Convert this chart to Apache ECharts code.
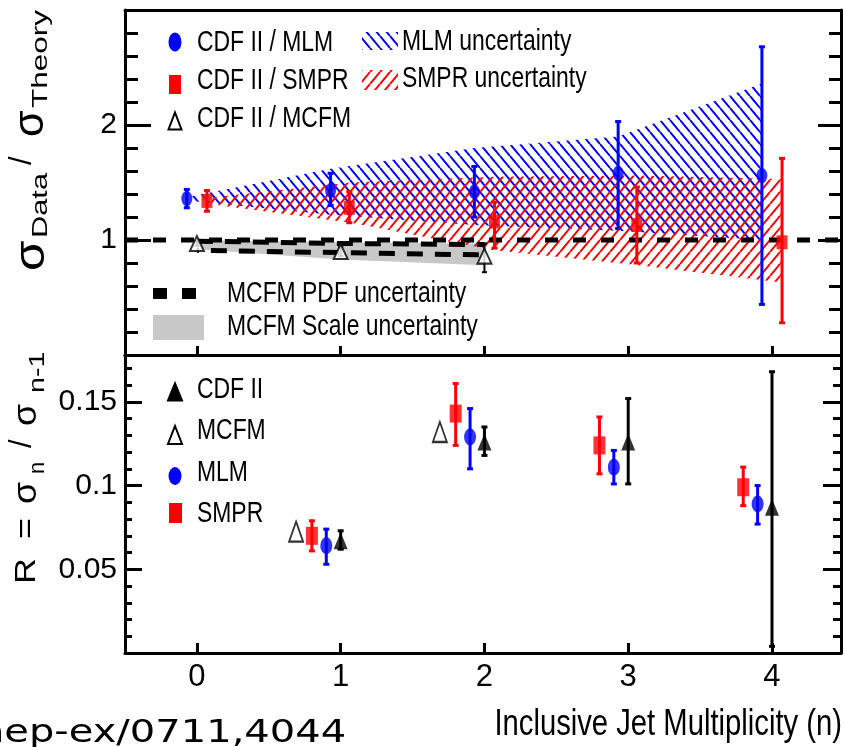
<!DOCTYPE html>
<html><head><meta charset="utf-8">
<script src="https://cdn.jsdelivr.net/npm/echarts@6/dist/echarts.min.js"></script>
<style>html,body{margin:0;padding:0;background:#fff}#c{width:844px;height:747px}</style>
</head><body><div id="c"></div>
<script>
// ---------------- data: top panel (sigma_data / sigma_theory) ----------------
const xTickValues = [0, 1, 2, 3, 4];
const topYLabels = [1, 2];
const botYLabels = [0.05, 0.1, 0.15];

const mlmX = [-0.07, 0.93, 1.93, 2.93, 3.93];
const mlmRatio = [1.36, 1.43, 1.42, 1.58, 1.56];
const mlmLo = [1.28, 1.30, 1.20, 1.10, 0.44];
const mlmHi = [1.44, 1.58, 1.64, 2.03, 2.68];

const smprX = [0.07, 1.06, 2.07, 3.06, 4.07];
const smprRatio = [1.34, 1.28, 1.16, 1.13, 0.98];
const smprLo = [1.25, 1.15, 0.93, 0.80, 0.28];
const smprHi = [1.43, 1.42, 1.33, 1.46, 1.71];

const mcfmX = [0, 1, 2];
const mcfmRatio = [0.97, 0.90, 0.86];
const mcfmLo = [0.95, 0.86, 0.72];
const mcfmHi = [0.99, 0.94, 0.97];

const mlmBandX = [-0.04, 0.93, 1.93, 2.93, 3.93];
const mlmBandUp = [1.38, 1.62, 1.80, 1.90, 2.36];
const mlmBandLo = [1.34, 1.22, 1.13, 1.08, 1.00];

const smprBandX = [0.1, 1.07, 2.07, 3.07, 4.07];
const smprBandUp = [1.37, 1.50, 1.55, 1.56, 1.53];
const smprBandLo = [1.31, 1.15, 0.91, 0.78, 0.63];

const scaleBandX = [0, 1, 2];
const scaleBandUp = [1.00, 0.98, 0.97];
const scaleBandLo = [0.92, 0.83, 0.78];

const pdfBandX = [0, 1, 2];
const pdfBandUp = [0.99, 0.97, 0.96];
const pdfBandLo = [0.91, 0.89, 0.87];

const refLineX = [-0.5, 4.48];
const refLineY = [1, 1];

// ---------------- data: bottom panel (R = sigma_n / sigma_n-1) ----------------
const rCdfX = [1, 2, 3, 4];
const rCdf = [0.067, 0.126, 0.126, 0.087];
const rCdfLo = [0.062, 0.118, 0.101, 0.004];
const rCdfHi = [0.073, 0.135, 0.152, 0.168];

const rMcfmX = [0.69, 1.69];
const rMcfm = [0.0725, 0.132];

const rMlmX = [0.9, 1.9, 2.9, 3.9];
const rMlm = [0.064, 0.129, 0.111, 0.089];
const rMlmLo = [0.053, 0.110, 0.101, 0.077];
const rMlmHi = [0.074, 0.146, 0.121, 0.100];

const rSmprX = [0.8, 1.8, 2.8, 3.8];
const rSmpr = [0.070, 0.143, 0.124, 0.099];
const rSmprLo = [0.061, 0.124, 0.107, 0.088];
const rSmprHi = [0.079, 0.161, 0.141, 0.111];

// ---------------- helpers ----------------
const BLUE = '#0000ff', RED = '#ff0000', BLACK = '#000000', GRAY = '#c8c8c8';
const NARROW = '"Liberation Sans Narrow","Liberation Sans",Arial,sans-serif';
const SANS = '"Liberation Sans",Arial,sans-serif';
const SQ = 0.79;   // horizontal squeeze of the original picture

function hatch(color, dir) {
  const w = 10, h = 12;
  const c = document.createElement('canvas');
  c.width = w; c.height = h;
  const g = c.getContext('2d');
  g.strokeStyle = color; g.lineWidth = 2; g.lineCap = 'butt';
  g.beginPath();
  for (let k = -1; k <= 1; k++) {
    if (dir > 0) { g.moveTo(k * w, h); g.lineTo(k * w + w, 0); }
    else { g.moveTo(k * w, 0); g.lineTo(k * w + w, h); }
  }
  g.stroke();
  return { image: c, repeat: 'repeat' };
}
const blueHatch = hatch(BLUE, -1);
const redHatch = hatch(RED, 1);

function bandSeries(xs, up, lo, fill, z) {
  return {
    type: 'custom', xAxisIndex: 0, yAxisIndex: 0, z: z, silent: true, clip: true,
    data: xs.map((x, i) => [x, lo[i], up[i]]),
    renderItem: (params, api) => {
      if (params.dataIndex !== 0) return null;
      const pts = [];
      for (let i = 0; i < xs.length; i++) pts.push(api.coord([xs[i], up[i]]));
      for (let i = xs.length - 1; i >= 0; i--) pts.push(api.coord([xs[i], lo[i]]));
      return { type: 'polygon', shape: { points: pts }, style: { fill: fill, stroke: null } };
    }
  };
}

function errSeries(xs, lo, hi, color, xi, yi, capW, lw) {
  return {
    type: 'custom', xAxisIndex: xi, yAxisIndex: yi, z: 5, silent: true,
    data: xs.map((x, i) => [x, lo[i], hi[i]]),
    renderItem: (params, api) => {
      const a = api.coord([api.value(0), api.value(1)]);
      const b = api.coord([api.value(0), api.value(2)]);
      const st = { stroke: color, lineWidth: lw };
      return {
        type: 'group', children: [
          { type: 'line', shape: { x1: a[0], y1: a[1], x2: b[0], y2: b[1] }, style: st },
          { type: 'line', shape: { x1: a[0] - capW / 2, y1: a[1], x2: a[0] + capW / 2, y2: a[1] }, style: st },
          { type: 'line', shape: { x1: b[0] - capW / 2, y1: b[1], x2: b[0] + capW / 2, y2: b[1] }, style: st }
        ]
      };
    }
  };
}

function scatter(xs, ys, symbol, size, style, xi, yi) {
  return {
    type: 'scatter', xAxisIndex: xi, yAxisIndex: yi, z: 6, silent: true,
    symbol: symbol, symbolSize: size, itemStyle: style,
    data: xs.map((x, i) => [x, ys[i]])
  };
}

function near(v, list) { return list.some(t => Math.abs(v - t) < 1e-6); }

const AX = { color: BLACK, width: 3 };
function xAxis(grid, pos, showTicks, showLabels) {
  return {
    type: 'value', gridIndex: grid, position: pos, min: -0.5, max: 4.48, splitNumber: 5,
    axisLine: { show: true, onZero: false, lineStyle: AX },
    axisTick: { show: showTicks, inside: true, length: showLabels ? 10 : 9, lineStyle: { color: BLACK, width: 3 } },
    axisLabel: {
      show: showLabels, margin: 9, color: BLACK, fontFamily: NARROW, fontSize: 31,
      formatter: v => near(v, xTickValues) ? String(Math.round(v)) : ''
    },
    splitLine: { show: false }
  };
}
function yAxis(grid, pos, min, max, interval, tickLen, labels, minorLen, showLine) {
  const a = {
    type: 'value', gridIndex: grid, position: pos, min: min, max: max, interval: interval,
    axisLine: { show: showLine, onZero: false, lineStyle: AX },
    axisTick: { show: true, inside: true, length: tickLen, lineStyle: { color: BLACK, width: 3 } },
    axisLabel: {
      show: !!labels, margin: 8, color: BLACK, fontFamily: NARROW, fontSize: 30,
      formatter: v => (labels && near(v, labels)) ? String(Math.round(v * 100) / 100) : ''
    },
    splitLine: { show: false }
  };
  if (minorLen) a.minorTick = { show: true, splitNumber: 5, length: minorLen, lineStyle: { color: BLACK, width: 3 } };
  return a;
}

// ---------------- graphic (legends, titles) ----------------
function htext(t, x, y, size, opts) {
  opts = opts || {};
  return {
    type: 'text', x: x, y: y, scaleX: opts.scaleX || SQ, z: 100, silent: true,
    style: {
      text: t, fill: BLACK, font: (opts.weight || 'normal') + ' ' + size + 'px ' + (opts.family || SANS),
      textAlign: opts.align || 'left', textVerticalAlign: 'middle'
    }
  };
}
// rotated (bottom-to-top) text piece: x = screen x of text middle line, y = screen y where text starts
function vtext(t, x, y, size, stretch) {
  return {
    type: 'text', x: x, y: y, rotation: Math.PI / 2, scaleX: stretch, z: 100, silent: true,
    style: { text: t, fill: BLACK, font: size + 'px ' + SANS, textAlign: 'left', textVerticalAlign: 'middle' }
  };
}
function tri(cx, cy, w, h, filled) {
  return {
    type: 'polygon', z: 100, silent: true,
    shape: { points: [[cx, cy - h / 2], [cx + w / 2, cy + h / 2], [cx - w / 2, cy + h / 2]] },
    style: { fill: filled ? BLACK : '#fff', stroke: BLACK, lineWidth: 2 }
  };
}
function ell(cx, cy, w, h, color) {
  return { type: 'circle', x: cx, y: cy, scaleY: h / w, z: 100, silent: true, shape: { cx: 0, cy: 0, r: w / 2 }, style: { fill: color } };
}
function box(x, y, w, h, fill) {
  return { type: 'rect', z: 100, silent: true, shape: { x: x, y: y, width: w, height: h }, style: { fill: fill } };
}

const graphics = [
  // top legend
  ell(175, 42, 13, 19, BLUE), htext('CDF II / MLM', 197, 43, 29),
  box(169, 75, 12, 19, RED), htext('CDF II / SMPR', 197, 81, 29),
  tri(175, 121, 13, 17, false), htext('CDF II / MCFM', 197, 119, 29),
  box(362, 32, 36, 18, blueHatch), htext('MLM uncertainty', 402, 42, 29),
  box(362, 70, 36, 20, redHatch), htext('SMPR uncertainty', 402, 79, 29),
  box(153, 288, 14, 11, BLACK), box(182, 288, 14, 11, BLACK), htext('MCFM PDF uncertainty', 227, 294, 29),
  box(153, 315, 51, 25, GRAY), htext('MCFM Scale uncertainty', 227, 327, 29),
  // bottom legend
  tri(175, 392, 14, 17, true), htext('CDF II', 197, 390, 29),
  tri(175, 435, 14, 18, false), htext('MCFM', 197, 431, 29),
  ell(175, 476, 13, 18, BLUE), htext('MLM', 197, 473, 29),
  box(169, 503, 13, 20, RED), htext('SMPR', 197, 514, 29),
  // axis title
  htext('Inclusive Jet Multiplicity (n)', 842, 725, 37, { align: 'right' }),
  htext('hep-ex/0711,4044', -21, 734, 32, { family: '"DejaVu Sans",sans-serif', scaleX: 1.25 }),
  // top y title: sigma_Data / sigma_Theory
  vtext('\u03c3', 32, 271, 43, 1.15), vtext('Data', 40.5, 238, 22, 1.4), vtext('/', 22, 165, 31, 1.0),
  vtext('\u03c3', 31.5, 137, 43, 1.0), vtext('Theory', 40.5, 108, 22, 1.43),
  // bottom y title: R = sigma_n / sigma_n-1
  vtext('R', 26.5, 584, 30, 1.2), vtext('=', 26.5, 539, 30, 1.2), vtext('\u03c3', 26.5, 504, 34, 1.05),
  vtext('n', 37.5, 474, 22, 1.0), vtext('/', 22, 448, 31, 1.0), vtext('\u03c3', 26.5, 426, 34, 1.05),
  vtext('n-1', 38, 393, 22, 1.3)
];

const option = {
  backgroundColor: '#ffffff',
  animation: false,
  grid: [
    { left: 125, top: 10, width: 716, height: 345, containLabel: false },
    { left: 125, top: 355, width: 716, height: 298, containLabel: false }
  ],
  xAxis: [
    xAxis(0, 'bottom', true, false),
    xAxis(0, 'top', false, false),
    xAxis(1, 'bottom', true, true),
    xAxis(1, 'top', false, false)
  ],
  yAxis: [
    yAxis(0, 'left', 0, 3, 1, 26, topYLabels, 13, true),
    yAxis(0, 'right', 0, 3, 1, 23, null, 12, true),
    yAxis(1, 'left', 0, 0.178, 0.05, 17, botYLabels, 0, true),
    yAxis(1, 'left', 0, 0.178, 0.01, 7, null, 0, false),
    yAxis(1, 'right', 0, 0.178, 0.05, 18, null, 0, true),
    yAxis(1, 'right', 0, 0.178, 0.01, 8, null, 0, false)
  ],
  series: [
    bandSeries(scaleBandX, scaleBandUp, scaleBandLo, GRAY, 1),
    bandSeries(mlmBandX, mlmBandUp, mlmBandLo, blueHatch, 2),
    bandSeries(smprBandX, smprBandUp, smprBandLo, redHatch, 2),
    { type: 'line', xAxisIndex: 0, yAxisIndex: 0, z: 3, silent: true, symbol: 'none',
      lineStyle: { color: BLACK, width: 5, type: [13, 15] }, data: refLineX.map((x, i) => [x, refLineY[i]]) },
    { type: 'line', xAxisIndex: 0, yAxisIndex: 0, z: 3, silent: true, symbol: 'none',
      lineStyle: { color: BLACK, width: 5, type: [16, 12] }, data: pdfBandX.map((x, i) => [x, pdfBandUp[i]]) },
    { type: 'line', xAxisIndex: 0, yAxisIndex: 0, z: 3, silent: true, symbol: 'none',
      lineStyle: { color: BLACK, width: 5, type: [16, 12], dashOffset: 14 }, data: pdfBandX.map((x, i) => [x, pdfBandLo[i]]) },
    errSeries(mlmX, mlmLo, mlmHi, BLUE, 0, 0, 6, 3),
    errSeries(smprX, smprLo, smprHi, RED, 0, 0, 6, 3),
    errSeries(mcfmX, mcfmLo, mcfmHi, BLACK, 0, 0, 5, 2),
    scatter(mlmX, mlmRatio, 'circle', [11, 15], { color: BLUE }, 0, 0),
    scatter(smprX, smprRatio, 'rect', [11, 14], { color: RED }, 0, 0),
    scatter(mcfmX, mcfmRatio, 'triangle', [14, 15], { color: '#fff', borderColor: BLACK, borderWidth: 2 }, 0, 0),

    errSeries(rSmprX, rSmprLo, rSmprHi, RED, 2, 2, 6, 3),
    errSeries(rMlmX, rMlmLo, rMlmHi, BLUE, 2, 2, 6, 3),
    errSeries(rCdfX, rCdfLo, rCdfHi, BLACK, 2, 2, 6, 3),
    scatter(rSmprX, rSmpr, 'rect', [12, 18], { color: RED }, 2, 2),
    scatter(rMlmX, rMlm, 'circle', [12, 17], { color: BLUE }, 2, 2),
    scatter(rCdfX, rCdf, 'triangle', [14, 17], { color: BLACK }, 2, 2),
    scatter(rMcfmX, rMcfm, 'triangle', [14, 20], { color: '#fff', borderColor: BLACK, borderWidth: 2 }, 2, 2)
  ],
  graphic: { elements: graphics }
};

const chart = echarts.init(document.getElementById('c'));
chart.setOption(option);
</script>
</body></html>
